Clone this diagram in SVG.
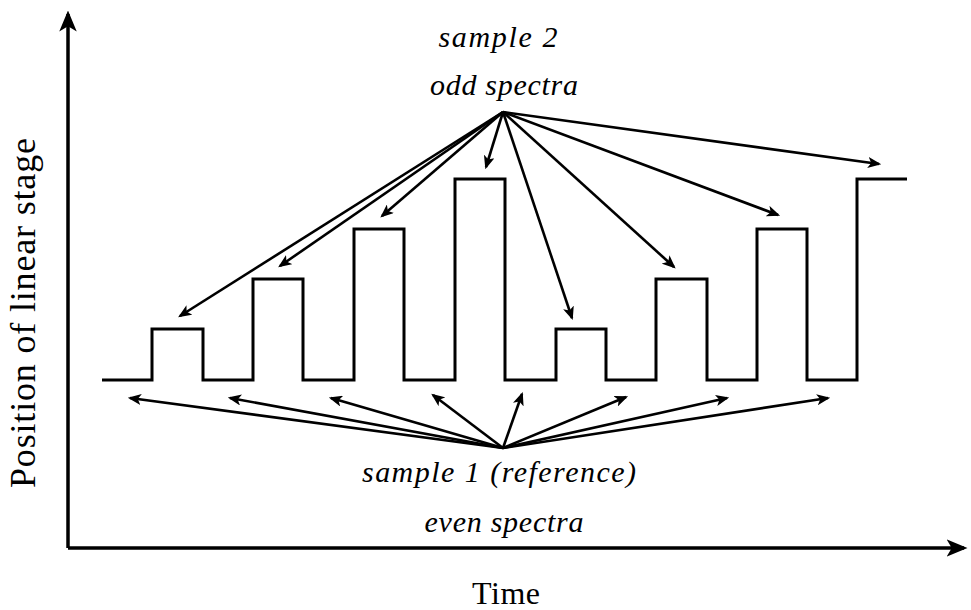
<svg xmlns="http://www.w3.org/2000/svg" width="971" height="610" viewBox="0 0 971 610">
  <style>
    .lbl { font-family: "Liberation Serif", "DejaVu Serif", serif; font-style: italic; font-size: 30px; fill: #000; text-anchor: middle; }
    .ax { font-family: "Liberation Serif", "DejaVu Serif", serif; fill: #000; text-anchor: middle; }
    .axis { stroke: #000; stroke-width: 3.5; fill: none; }
    .wave { stroke: #000; stroke-width: 3; fill: none; stroke-linejoin: miter; }
    .arr { stroke: #000; stroke-width: 2.6; fill: none; marker-end: url(#head); }
  </style>
  <defs>
    <marker id="head" viewBox="0 0 12 10" refX="10" refY="5" markerWidth="5.2" markerHeight="4.3" markerUnits="strokeWidth" orient="auto">
      <path d="M0,0 L12,5 L0,10 L3,5 Z" fill="#000"/>
    </marker>
    <marker id="axhead" viewBox="0 0 12 10" refX="10" refY="5" markerWidth="6" markerHeight="5" markerUnits="strokeWidth" orient="auto">
      <path d="M0,0 L12,5 L0,10 L3,5 Z" fill="#000"/>
    </marker>
  </defs>

  <!-- axes -->
  <g id="axes">
    <path class="axis" d="M68,548 L68,14" marker-end="url(#axhead)"/>
    <path class="axis" d="M68,548 L964,548" marker-end="url(#axhead)"/>
    <text class="ax" x="506" y="604" font-size="32" textLength="68" lengthAdjust="spacing">Time</text>
    <text class="ax" transform="translate(35,313) rotate(-90)" font-size="36" textLength="350" lengthAdjust="spacing">Position of linear stage</text>
  </g>

  <!-- stage position trace -->
  <g id="trace">
    <path class="wave" d="M102,380 H152 V329 H203 V380 H253 V279 H303 V380 H354 V229 H404 V380 H455 V179 H505 V380 H556 V329 H606 V380 H656 V279 H707 V380 H757 V229 H807 V380 H857 V179 H907"/>
  </g>

  <!-- labels -->
  <g id="sample2">
    <text class="lbl" x="498" y="47" textLength="119" lengthAdjust="spacing">sample 2</text>
    <text class="lbl" x="504" y="95" textLength="148" lengthAdjust="spacing">odd spectra</text>
  </g>
  <g id="sample1">
    <text class="lbl" x="499" y="482" textLength="274" lengthAdjust="spacing">sample 1 (reference)</text>
    <text class="lbl" x="504" y="532" textLength="159" lengthAdjust="spacing">even spectra</text>
  </g>

  <!-- connectors -->
  <g id="connectors">
    <path class="arr" d="M503,112 L180,316"/>
    <path class="arr" d="M503,112 L280,266"/>
    <path class="arr" d="M503,112 L382,216"/>
    <path class="arr" d="M503,112 L486,167"/>
    <path class="arr" d="M503,112 L572,318"/>
    <path class="arr" d="M503,112 L674,267"/>
    <path class="arr" d="M503,112 L778,215"/>
    <path class="arr" d="M503,112 L879,164"/>

    <path class="arr" d="M503,448 L130,398"/>
    <path class="arr" d="M503,448 L230,398"/>
    <path class="arr" d="M503,448 L331,398"/>
    <path class="arr" d="M503,448 L433,395"/>
    <path class="arr" d="M503,448 L522,394"/>
    <path class="arr" d="M503,448 L626,397"/>
    <path class="arr" d="M503,448 L727,398"/>
    <path class="arr" d="M503,448 L828,398"/>
  </g>
</svg>
